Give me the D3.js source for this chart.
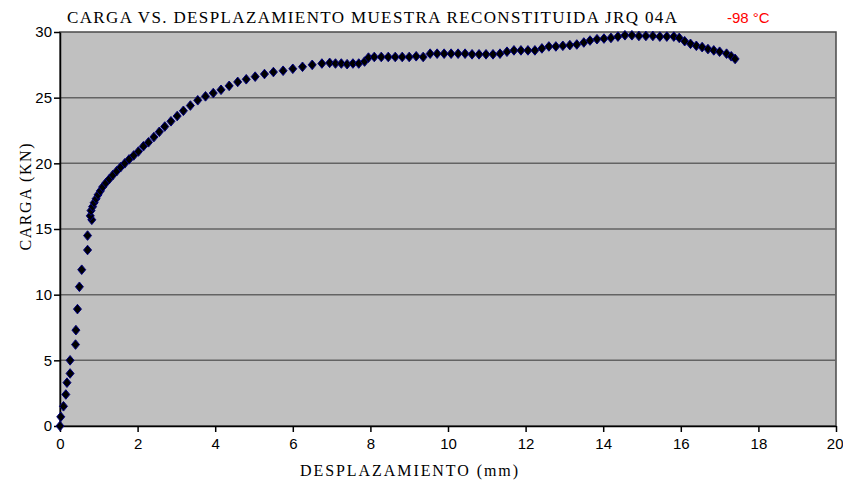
<!DOCTYPE html>
<meta charset="utf-8">
<style>
body { margin: 0; background: #fff; }
svg { display: block; font-family: "Liberation Serif", "DejaVu Serif", serif; }
.grid line { stroke: #636363; stroke-width: 1.5px; }
.axis path, .axis line { stroke: #000; stroke-width: 1.5px; }
.axis text { font-size: 15px; fill: #000; }
</style>
<svg width="843" height="481"></svg>
<script src="https://cdn.jsdelivr.net/npm/d3@7/dist/d3.min.js"></script>
<script>

// desplazamiento (mm) and carga (KN)
var desplazamiento = [0, 0.02, 0.09, 0.15, 0.18, 0.26, 0.26, 0.40, 0.41, 0.45, 0.50, 0.56, 0.71, 0.71, 0.82,
  0.78, 0.80, 0.84, 0.88, 0.93, 0.98, 1.04, 1.10, 1.18, 1.27, 1.36, 1.46, 1.56, 1.67, 1.78, 1.90,
  2.02, 2.15, 2.28, 2.42, 2.56, 2.70, 2.86, 3.02, 3.18, 3.36, 3.55, 3.75, 3.95, 4.15, 4.36, 4.58,
  4.80, 5.03, 5.27, 5.50, 5.75, 6.00, 6.25, 6.50, 6.75, 6.95, 7.10, 7.25, 7.40, 7.55, 7.70, 7.85,
  7.95, 8.10, 8.28, 8.46, 8.64, 8.82, 9.00, 9.18, 9.36, 9.54, 9.72, 9.90, 10.08, 10.26, 10.44,
  10.62, 10.80, 10.98, 11.16, 11.34, 11.52, 11.70, 11.88, 12.06, 12.24, 12.42, 12.60, 12.78, 12.96,
  13.14, 13.32, 13.50, 13.66, 13.84, 14.02, 14.20, 14.38, 14.56, 14.74, 14.92, 15.10, 15.28, 15.46,
  15.64, 15.82, 15.96, 16.10, 16.25, 16.40, 16.55, 16.70, 16.85, 17.00, 17.18, 17.30, 17.40];

var carga = [0, 0.7, 1.5, 2.4, 3.3, 4.0, 5.0, 6.2, 7.3, 8.9, 10.6, 11.9, 13.4, 14.5, 15.7,
  16.0, 16.4, 16.7, 17.0, 17.3, 17.6, 17.9, 18.2, 18.5, 18.8, 19.1, 19.4, 19.7, 20.0, 20.3, 20.6,
  20.9, 21.3, 21.6, 22.0, 22.4, 22.8, 23.2, 23.6, 24.0, 24.4, 24.8, 25.1, 25.35, 25.6, 25.9, 26.2,
  26.4, 26.6, 26.8, 26.95, 27.05, 27.2, 27.35, 27.5, 27.6, 27.65, 27.6, 27.6, 27.55, 27.6, 27.6, 27.75,
  28.05, 28.1, 28.1, 28.1, 28.1, 28.1, 28.1, 28.15, 28.1, 28.35, 28.35, 28.35, 28.35, 28.35, 28.35,
  28.3, 28.3, 28.3, 28.3, 28.35, 28.5, 28.6, 28.6, 28.6, 28.6, 28.75, 28.9, 28.9, 28.95,
  29.0, 29.05, 29.2, 29.35, 29.45, 29.5, 29.55, 29.65, 29.75, 29.75, 29.7, 29.7, 29.7, 29.65,
  29.65, 29.65, 29.55, 29.3, 29.1, 28.95, 28.85, 28.7, 28.6, 28.5, 28.35, 28.15, 27.95];

var xTicks = [0, 2, 4, 6, 8, 10, 12, 14, 16, 18, 20];
var yTicks = [0, 5, 10, 15, 20, 25, 30];

var titulo = "CARGA VS. DESPLAZAMIENTO MUESTRA RECONSTITUIDA JRQ 04A";
var temperatura = "-98 \u00B0C";

var svg = d3.select("svg");
var margin = {left: 60, right: 7, top: 32, bottom: 55};
var width = 843 - margin.left - margin.right,
    height = 481 - margin.top - margin.bottom;

var x = d3.scaleLinear().domain([0, 20]).range([0, width]);
var y = d3.scaleLinear().domain([0, 30]).range([height, 0]);

var g = svg.append("g").attr("transform", "translate(" + margin.left + "," + margin.top + ")");

g.append("rect")
    .attr("width", width)
    .attr("height", height)
    .attr("fill", "#c0c0c0")
    .attr("stroke", "#4a4a4a")
    .attr("stroke-width", 1.5);

g.append("g")
    .attr("class", "grid")
  .selectAll("line")
  .data(yTicks.filter(function(d) { return d > 0 && d < 30; }))
  .enter().append("line")
    .attr("x1", 0)
    .attr("x2", width)
    .attr("y1", function(d) { return y(d); })
    .attr("y2", function(d) { return y(d); });

var xAxis = g.append("g")
    .attr("class", "axis")
    .attr("transform", "translate(0," + height + ")")
    .call(d3.axisBottom(x).tickValues(xTicks).tickSize(6).tickSizeOuter(0).tickPadding(6));

// last label sits on the page edge, keep it inside
xAxis.selectAll(".tick text").filter(function(d) { return d === 20; })
    .attr("text-anchor", "end")
    .attr("dx", 7);

g.append("g")
    .attr("class", "axis")
    .call(d3.axisLeft(y).tickValues(yTicks).tickSize(6).tickSizeOuter(0).tickPadding(2));

var puntos = desplazamiento.map(function(d, i) { return {x: d, y: carga[i]}; });

g.append("g")
  .selectAll("path")
  .data(puntos)
  .enter().append("path")
    .attr("transform", function(d) { return "translate(" + x(d.x) + "," + y(d.y) + ")"; })
    .attr("d", "M0,-4.8L4,0L0,4.8L-4,0Z")
    .attr("fill", "#000")
    .attr("stroke", "#000080")
    .attr("stroke-width", 1);

svg.append("text")
    .attr("x", 67)
    .attr("y", 23)
    .attr("font-size", 17)
    .attr("textLength", 610)
    .attr("lengthAdjust", "spacing")
    .text(titulo);

svg.append("text")
    .attr("x", 727)
    .attr("y", 23)
    .attr("font-family", "Liberation Sans, Arial, sans-serif")
    .attr("font-size", 15)
    .attr("fill", "#ff0000")
    .text(temperatura);

svg.append("text")
    .attr("x", 409)
    .attr("y", 476)
    .attr("text-anchor", "middle")
    .attr("font-size", 16)
    .attr("textLength", 218)
    .attr("lengthAdjust", "spacing")
    .text("DESPLAZAMIENTO (mm)");

svg.append("text")
    .attr("transform", "translate(31,197) rotate(-90)")
    .attr("text-anchor", "middle")
    .attr("font-size", 16)
    .attr("textLength", 107)
    .attr("lengthAdjust", "spacing")
    .text("CARGA (KN)");

</script>
